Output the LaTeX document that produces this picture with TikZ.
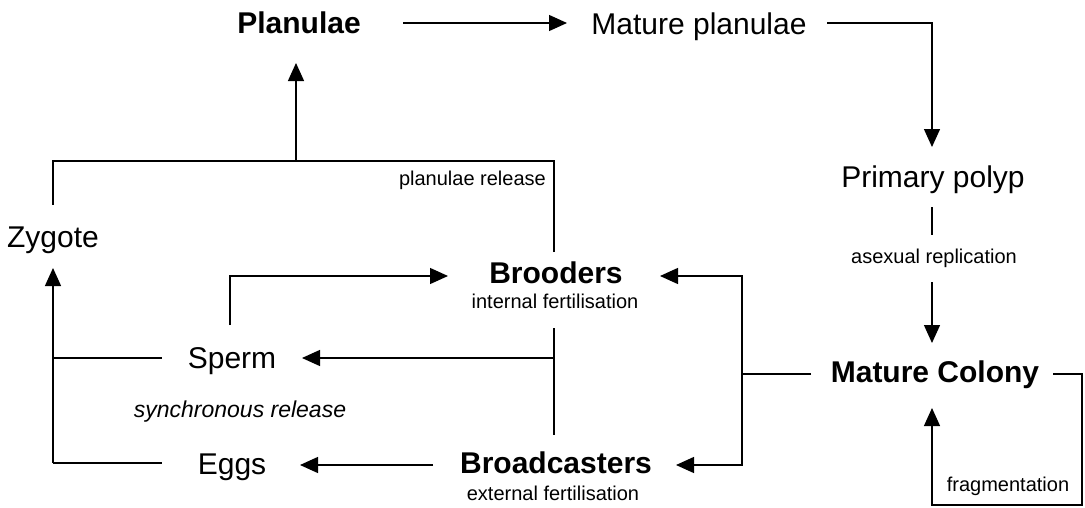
\documentclass[tikz,border=0pt]{standalone}
\usepackage{fontspec}
\setmainfont{Liberation Sans}
\usetikzlibrary{arrows.meta}
\tikzset{
  lbl/.style={inner sep=0pt, anchor=base, font=\fontsize{30}{34}\selectfont},
  blbl/.style={inner sep=0pt, anchor=base, font=\bfseries\fontsize{30}{34}\selectfont},
  slbl/.style={inner sep=0pt, anchor=base, font=\fontsize{20}{24}\selectfont},
  ilbl/.style={inner sep=0pt, anchor=base, font=\itshape\fontsize{23}{26}\selectfont},
  conn/.style={line width=1.3pt, black},
  arr/.style={conn, -{Triangle[length=18pt,width=16pt]}}
}
\begin{document}
\begin{tikzpicture}[x=1pt,y=-1pt]
\fill[white] (0,0) rectangle (1085,507);
\useasboundingbox (0,0) rectangle (1085,507);
% labels
\node[blbl] (planulae) at (299,33) {Planulae};
\node[lbl] (matplan) at (699,34) {Mature planulae};
\node[lbl] (polyp) at (933,187) {Primary polyp};
\node[slbl] (asex) at (934,263) {asexual replication};
\node[blbl] (colony) at (935,382) {Mature Colony};
\node[slbl] (frag) at (1008,491) {fragmentation};
\node[lbl] (zygote) at (53,247) {Zygote};
\node[slbl, anchor=base east] (prel) at (546,185) {planulae release};
\node[blbl] (brooders) at (556,283) {Brooders};
\node[slbl] (intf) at (555,308) {internal fertilisation};
\node[lbl] (sperm) at (232,368) {Sperm};
\node[ilbl] (sync) at (240,417) {synchronous release};
\node[lbl] (eggs) at (232,474) {Eggs};
\node[blbl] (broad) at (556,473) {Broadcasters};
\node[slbl] (extf) at (553,500) {external fertilisation};
% connector points
\coordinate (plout) at (403,23);
\coordinate (mpin) at (567,23);
\coordinate (mpout) at (827,23);
\coordinate (mpturn) at (932,23);
\coordinate (ppin) at (932,147);
\coordinate (ticktop) at (932,207);
\coordinate (tickbot) at (932,235);
\coordinate (mctop) at (932,282);
\coordinate (mcin) at (932,343);
\coordinate (mcr) at (1053,374);
\coordinate (r1) at (1082,374);
\coordinate (r2) at (1082,505);
\coordinate (r3) at (932,505);
\coordinate (mcinbot) at (932,408);
\coordinate (mcl) at (811,374);
\coordinate (v1) at (742,374);
\coordinate (vtop) at (742,276);
\coordinate (vbot) at (742,465);
\coordinate (brin) at (660,276);
\coordinate (bcin) at (676,465);
\coordinate (bbtop) at (554,328);
\coordinate (bbbot) at (554,435);
\coordinate (bbmid) at (554,358);
\coordinate (spin) at (302,358);
\coordinate (bcout) at (433,465);
\coordinate (egin) at (300,465);
\coordinate (relbot) at (554,252);
\coordinate (reltr) at (554,161);
\coordinate (reltl) at (53,161);
\coordinate (relbl) at (53,205);
\coordinate (relmid) at (296,161);
\coordinate (plin) at (296,63);
\coordinate (zyin) at (53,268);
\coordinate (zybot) at (53,463);
\coordinate (spl) at (162,358);
\coordinate (spll) at (53,358);
\coordinate (egl) at (162,463);
\coordinate (spupb) at (230,325);
\coordinate (sprupt) at (230,276);
\coordinate (brl) at (448,276);
% connectors
\draw[arr] (plout) -- (mpin);
\draw[arr] (mpout) -- (mpturn) -- (ppin);
\draw[conn] (ticktop) -- (tickbot);
\draw[arr] (mctop) -- (mcin);
\draw[arr] (mcr) -- (r1) -- (r2) -- (r3) -- (mcinbot);
\draw[conn] (mcl) -- (v1);
\draw[arr] (v1) -- (vtop) -- (brin);
\draw[arr] (v1) -- (vbot) -- (bcin);
\draw[conn] (bbtop) -- (bbbot);
\draw[arr] (bbmid) -- (spin);
\draw[arr] (bcout) -- (egin);
\draw[conn] (relbot) -- (reltr) -- (reltl) -- (relbl);
\draw[arr] (relmid) -- (plin);
\draw[arr] (zybot) -- (zyin);
\draw[conn] (spll) -- (spl);
\draw[conn] (zybot) -- (egl);
\draw[arr] (spupb) -- (sprupt) -- (brl);
\end{tikzpicture}
\end{document}
